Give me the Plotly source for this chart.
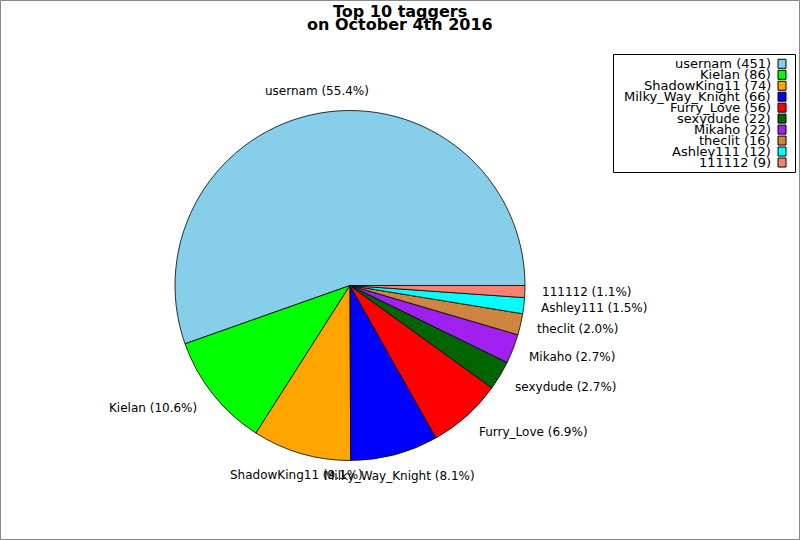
import math
import plotly.graph_objects as go

names = ["usernam", "Kielan", "ShadowKing11", "Milky_Way_Knight", "Furry_Love",
         "sexydude", "Mikaho", "theclit", "Ashley111", "111112"]
counts = [451, 86, 74, 66, 56, 22, 22, 16, 12, 9]
colors = ["#87CEEB", "#00FF00", "#FFA500", "#0000FF", "#FF0000",
          "#006400", "#A020F0", "#CD853F", "#00FFFF", "#FA8072"]
title_lines = ["Top 10 taggers", "on October 4th 2016"]

W, H = 800, 540
CX, CY, R = 350.0, 285.5, 175.0

def px(x):
    return x / W

def py(y):
    return 1 - y / H

total = sum(counts)
# plotly (counterclockwise): first slice ends at `rotation` (clockwise from 12 o'clock);
# we want the first slice to start at 3 o'clock and run counterclockwise.
rotation = 90 - 360 * counts[0] / total

fig = go.Figure()
fig.add_trace(go.Pie(
    labels=names, values=counts, sort=False, direction="counterclockwise",
    rotation=rotation, textinfo="none", hoverinfo="label+value+percent",
    marker=dict(colors=colors, line=dict(color="black", width=0.8)),
    domain=dict(x=[px(CX - R), px(CX + R)], y=[py(CY + R), py(CY - R)]),
    showlegend=False,
))

annotations = []
cum = 0.0
for n, c in zip(names, counts):
    frac = c / total
    mid = (cum + frac / 2) * 2 * math.pi
    cum += frac
    cx, sy = math.cos(mid), math.sin(mid)
    if abs(cx) < 0.3:
        xa, fx = "center", 1.105
    elif cx > 0:
        xa, fx = "left", 1.087
    else:
        xa, fx = "right", 1.105
    lx = CX + fx * R * cx
    ly = CY - 1.125 * R * sy
    annotations.append(dict(
        x=px(lx), y=py(ly), xref="paper", yref="paper", showarrow=False,
        text=f"{n} ({frac * 100:.1f}%)", xanchor=xa, yanchor="middle",
        font=dict(family="DejaVu Sans", size=12, color="black")))

# title
for i, t in enumerate(title_lines):
    annotations.append(dict(
        x=0.5, y=py(11 + i * 14), xref="paper", yref="paper", showarrow=False,
        text=f"<b>{t}</b>", xanchor="center", yanchor="middle",
        font=dict(family="DejaVu Sans", size=16, color="black")))

shapes = []
# legend
LX0, LY0, LX1, LY1 = 613.5, 54.5, 795.5, 172.5
shapes.append(dict(type="rect", xref="paper", yref="paper",
                   x0=px(LX0), x1=px(LX1), y0=py(LY0), y1=py(LY1),
                   line=dict(color="black", width=1), fillcolor="white", layer="below"))
row0, step = 63.8, 10.97
for i, (n, c, col) in enumerate(zip(names, counts, colors)):
    yc = row0 + i * step
    annotations.append(dict(
        x=px(773), y=py(yc), xref="paper", yref="paper", showarrow=False,
        text=f"{n} ({c})", xanchor="right", yanchor="middle",
        font=dict(family="DejaVu Sans", size=13, color="black")))
    shapes.append(dict(type="rect", xref="paper", yref="paper",
                       x0=px(778), x1=px(786), y0=py(yc - 4.5), y1=py(yc + 4.5),
                       line=dict(color="black", width=1), fillcolor=col))

# figure border
shapes.append(dict(type="rect", xref="paper", yref="paper",
                   x0=px(0.5), x1=px(799.5), y0=py(0.5), y1=py(539.5),
                   line=dict(color="#888888", width=1)))

fig.update_layout(
    width=W, height=H, margin=dict(l=0, r=0, t=0, b=0),
    paper_bgcolor="white", plot_bgcolor="white",
    annotations=annotations, shapes=shapes, showlegend=False,
)
fig.write_html("out.html", config={"displayModeBar": False},
               post_script="document.body.style.margin='0px';document.body.style.overflow='hidden';")
